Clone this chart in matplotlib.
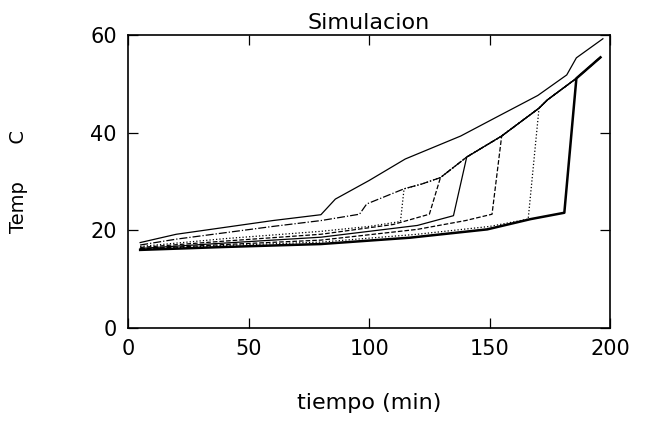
import numpy as np
import matplotlib
matplotlib.use('Agg')
import matplotlib.pyplot as plt

# upper envelope that the heated curves follow after their jump
env_x = [99., 105., 114.5, 122., 129.6, 140.5, 155., 170.5, 174., 186., 196.]
env_y = [25.4, 26.6, 28.5, 29.5, 30.8, 35.0, 39.3, 45.0, 46.7, 51.1, 55.4]

# first (top) curve, read on its own
top_x = [5., 20., 40., 60., 80., 86., 100., 115., 138., 153., 170., 182., 186., 197.]
top_y = [17.5, 19.2, 20.6, 22.0, 23.2, 26.4, 30.2, 34.6, 39.3, 43.2, 47.6, 51.8, 55.3, 59.2]

# the other curves before their jump (last point = foot of the jump)
b_x = [5., 20., 40., 60., 80., 96.]
b_y = [17.0, 18.2, 19.5, 20.8, 22.0, 23.3]
c_x = [5., 40., 80., 100., 113.]
c_y = [16.7, 18.3, 19.8, 20.8, 21.8]
d_x = [5., 40., 80., 110., 125.]
d_y = [16.5, 17.8, 19.2, 21.2, 23.3]
e_x = [5., 40., 80., 120., 135.]
e_y = [16.3, 17.4, 18.6, 21.0, 23.0]
f_x = [5., 40., 80., 120., 140., 151.]
f_y = [16.2, 17.1, 18.0, 20.2, 22.0, 23.3]
g_x = [5., 40., 80., 120., 150., 166.]
g_y = [16.1, 16.9, 17.6, 19.2, 20.8, 22.3]
h_x = [5., 40., 80., 117., 149., 167., 181.]
h_y = [16.0, 16.6, 17.2, 18.5, 20.2, 22.3, 23.6]

xticks = [0, 50, 100, 150, 200]
yticks = [0, 20, 40, 60]


def join_env(x, y):
    xx = list(x)
    yy = list(y)
    for ex, ey in zip(env_x, env_y):
        if ex > x[-1] + 1.:
            xx.append(ex)
            yy.append(ey)
    return xx, yy


plt.rcParams['font.family'] = 'DejaVu Sans'

fig = plt.figure(figsize=(6.47, 4.25), dpi=100)
ax = fig.add_axes([0.198, 0.228, 0.745, 0.690])

ax.plot(top_x, top_y, color='black', lw=0.9, linestyle='-')
styles = [(b_x, b_y, '-.', 0.9),
          (c_x, c_y, ':', 0.9),
          (d_x, d_y, '--', 0.9),
          (e_x, e_y, '-', 0.9),
          (f_x, f_y, '--', 0.9),
          (g_x, g_y, ':', 0.9),
          (h_x, h_y, '-', 1.8)]
for x, y, ls, lw in styles:
    xx, yy = join_env(x, y)
    ax.plot(xx, yy, color='black', lw=lw, linestyle=ls)

ax.set_xlim(0., 200.)
ax.set_ylim(0., 60.)
ax.set_xticks(xticks)
ax.set_yticks(yticks)
ax.tick_params(direction='in', top=True, right=True, length=7, width=0.9,
               labelsize=15, pad=8)
for s in ax.spines.values():
    s.set_linewidth(1.2)

ax.set_title('Simulacion', fontsize=16, pad=4)
ax.set_xlabel('tiempo (min)', fontsize=16)
ax.xaxis.set_label_coords(0.5, -0.222)
ax.set_ylabel('Temp      C', fontsize=14)
ax.yaxis.set_label_coords(-0.207, 0.5)

fig.savefig('out.png', dpi=100)
